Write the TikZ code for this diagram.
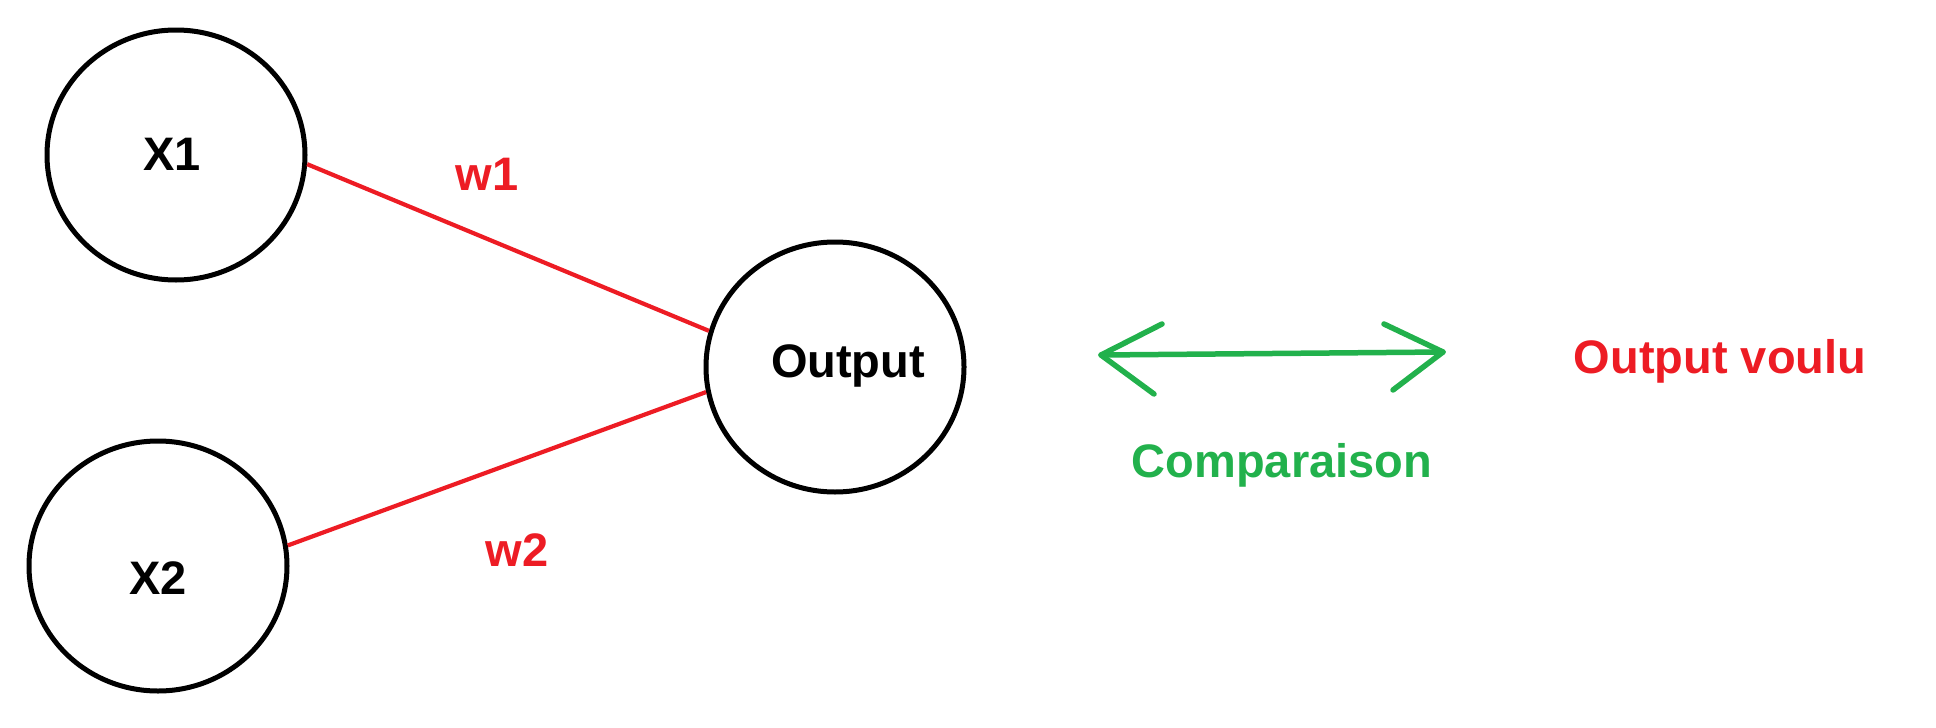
\documentclass[tikz,border=0pt]{standalone}
\usepackage{fontspec}
\setmainfont{Liberation Sans}
\usetikzlibrary{shapes.geometric}
\definecolor{pred}{RGB}{237,28,36}
\definecolor{pgreen}{RGB}{34,177,76}
\tikzset{
  neuron/.style={draw=black, line width=5pt, ellipse, minimum width=258pt, minimum height=250pt, inner sep=0pt},
  txt/.style={anchor=base, inner sep=0pt, font=\fontsize{47}{56}\selectfont\bfseries},
  wire/.style={draw=pred, line width=4.2pt},
  cmp/.style={draw=pgreen, line width=5.5pt, line cap=round, line join=round}
}
\begin{document}
\begin{tikzpicture}[x=1pt,y=-1pt]
\useasboundingbox (0,0) rectangle (1936,728);
\node[neuron] (x1) at (176,155) {};
\node[neuron] (x2) at (158,566) {};
\node[neuron] (out) at (835,367) {};
\node[txt] (x1t) at (172,170) {X1};
\node[txt] (x2t) at (158,594) {X2};
\node[txt] (outt) at (848,377) {Output};
\draw[wire] (x1.-4) -- (out.164);
\draw[wire] (x2.9) -- (out.-169);
\node[txt, text=pred] (w1) at (487,190) {w1};
\node[txt, text=pred] (w2) at (517,566) {w2};
\coordinate (cl) at (1101,355);
\coordinate (cr) at (1443,352);
\draw[cmp] (cl) -- (cr);
\draw[cmp] (1162,324) -- (cl) -- (1154,394);
\draw[cmp] (1384,324) -- (cr) -- (1393,390);
\node[txt, text=pgreen] (cmpt) at (1282,477) {Comparaison};
\node[txt, text=pred] (want) at (1720,373) {Output voulu};
\end{tikzpicture}
\end{document}
